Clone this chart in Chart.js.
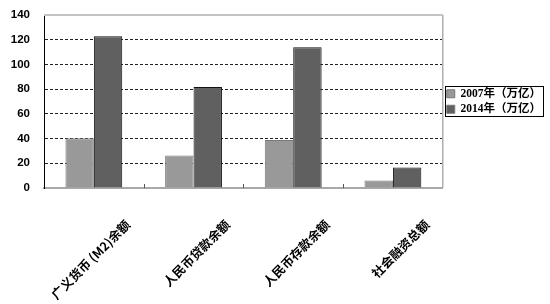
<!DOCTYPE html>
<html><head><meta charset="utf-8">
<script src="https://cdn.jsdelivr.net/npm/chart.js@4.4.0/dist/chart.umd.min.js"></script>
<style>html,body{margin:0;padding:0;background:#fff}#wrap{width:550px;height:304px}</style>
</head><body><div id="wrap"><canvas id="c" width="550" height="304"></canvas></div>
<script>
const categories = ['广义货币 (M2)余额', '人民币贷款余额', '人民币存款余额', '社会融资总额'];
const values2007 = [40.3, 26.2, 38.9, 6.0];
const values2014 = [122.8, 81.8, 113.9, 16.5];
const seriesNames = ['2007年（万亿）', '2014年（万亿）'];
const yTicks = [0, 20, 40, 60, 80, 100, 120, 140];

const frame = {
  id: 'frame',
  beforeDatasetsDraw(chart) {
    const {ctx, chartArea: a} = chart;
    ctx.save();
    ctx.strokeStyle = '#c4c4c4';
    ctx.lineWidth = 2;
    ctx.beginPath(); ctx.moveTo(a.left, a.top); ctx.lineTo(a.right, a.top); ctx.stroke();
    ctx.lineWidth = 1.5;
    ctx.strokeStyle = '#b0b0b0';
    ctx.beginPath(); ctx.moveTo(a.right, a.top); ctx.lineTo(a.right, a.bottom); ctx.stroke();
    const xs = chart.scales.x;
    ctx.strokeStyle = '#555';
    ctx.lineWidth = 1;
    for (let i = 1; i < categories.length; i++) {
      const x = Math.round((xs.getPixelForValue(i - 1) + xs.getPixelForValue(i)) / 2) + 0.5;
      ctx.beginPath(); ctx.moveTo(x, a.bottom); ctx.lineTo(x, a.bottom - 4); ctx.stroke();
    }
    ctx.restore();
  },
  afterDraw(chart) {
    const boxes = chart.legend && chart.legend.legendHitBoxes;
    if (!boxes || !boxes.length) return;
    let l = Infinity, t = Infinity, r = -Infinity, b = -Infinity;
    boxes.forEach(h => { l = Math.min(l, h.left); t = Math.min(t, h.top); r = Math.max(r, h.left + h.width); b = Math.max(b, h.top + h.height); });
    const ctx = chart.ctx;
    ctx.save();
    ctx.strokeStyle = '#000';
    ctx.lineWidth = 1;
    ctx.strokeRect(Math.round(l - 2) + 0.5, Math.round(t - 2) + 0.5, Math.round(r - l + 4), Math.round(b - t + 3));
    ctx.restore();
  }
};

new Chart(document.getElementById('c'), {
  type: 'bar',
  data: {
    labels: categories,
    datasets: [
      { label: seriesNames[0], data: values2007, backgroundColor: '#999999', borderColor: '#7a7a7a', borderWidth: 1,
        categoryPercentage: 0.57, barPercentage: 1 },
      { label: seriesNames[1], data: values2014, backgroundColor: '#606060', borderColor: '#111111', borderWidth: 1,
        categoryPercentage: 0.57, barPercentage: 1 }
    ]
  },
  options: {
    responsive: false,
    animation: false,
    devicePixelRatio: 1,
    layout: { padding: { left: 11, top: 15, right: -1, bottom: 0 } },
    plugins: {
      legend: {
        position: 'right',
        align: 'center',
        fullSize: false,
        labels: {
          boxWidth: 8, boxHeight: 8, padding: 4, color: '#000',
          font: { family: '"Liberation Serif", "Noto Sans CJK SC"', size: 11.5, weight: 'bold' },
          generateLabels(chart) {
            return chart.data.datasets.map((d, i) => ({
              text: d.label, fillStyle: d.backgroundColor, strokeStyle: '#777', lineWidth: 1,
              hidden: false, datasetIndex: i, fontColor: '#000'
            }));
          }
        }
      },
      tooltip: { enabled: false }
    },
    scales: {
      x: {
        grid: { display: false },
        border: { display: true, color: '#a8a8a8', width: 2 },
        afterFit(scale) { scale.height = 116; scale.paddingLeft = 0; scale.paddingRight = 0; },
        ticks: {
          color: '#000', maxRotation: 45, minRotation: 45, labelOffset: 34, padding: 21,
          font: { family: '"Noto Sans CJK SC"', size: 12.5, weight: 'bold' }
        }
      },
      y: {
        min: 0, max: 140,
        afterBuildTicks(scale) { scale.ticks = yTicks.map(v => ({ value: v })); },
        afterFit(scale) { scale.paddingTop = 0; scale.paddingBottom = 0; scale.width = 33; },
        grid: {
          drawTicks: false,
          color: ctx => (ctx.tick && (ctx.tick.value === 0 || ctx.tick.value === 140)) ? 'rgba(0,0,0,0)' : '#222',
          lineWidth: 1
        },
        border: { display: true, color: '#000', width: 1, dash: [3, 2] },
        ticks: {
          color: '#000', padding: 14,
          font: { family: '"Liberation Sans", Arial, sans-serif', size: 11.5, weight: 'bold' }
        }
      }
    }
  },
  plugins: [frame]
});
</script></body></html>
